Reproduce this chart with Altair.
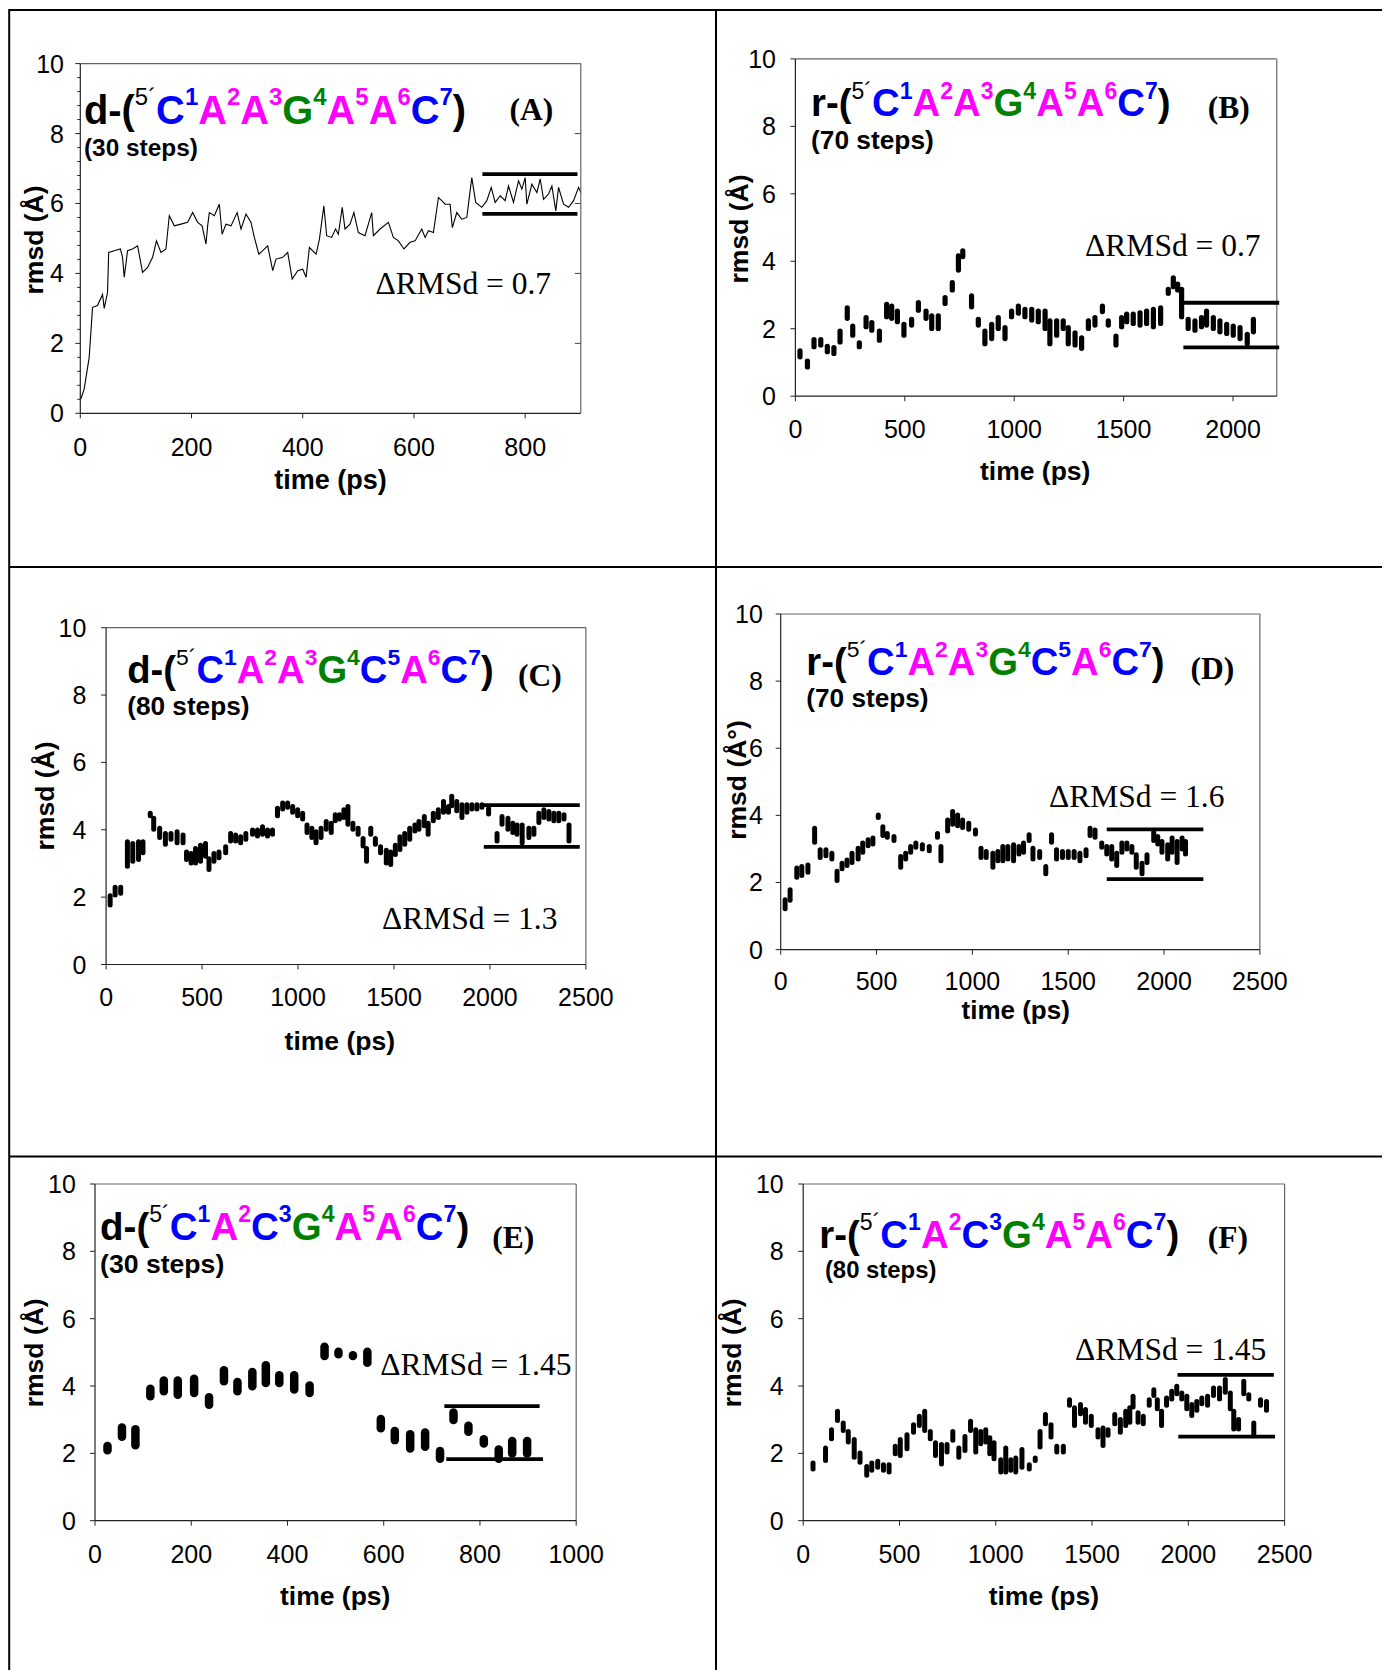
import altair as alt
import pandas as pd

W, H, M = 1374, 1662, 8
SANS, SERIF = "Liberation Sans", "Liberation Serif"
BLUE, MAGENTA, GREEN = "#0000FF", "#FF00FF", "#008000"
COLORS = {"C": BLUE, "A": MAGENTA, "G": GREEN}
AXIS_COLOR = "#222"

# ---------------- data ----------------
# (A) continuous trace
A_time = [1, 7, 16, 22, 31, 40, 43, 49, 51, 61,
          72, 76, 79, 85, 94, 103, 112, 121, 130, 137,
          145, 154, 160, 169, 181, 193, 202, 211, 219, 226,
          229, 232, 241, 250, 255, 262, 271, 282, 289, 298,
          307, 313, 321, 328, 337, 346, 352, 364, 373, 381,
          391, 400, 406, 412, 424, 430, 438, 443, 452, 459,
          464, 471, 476, 485, 492, 500, 512, 524, 527, 539,
          554, 563, 572, 582, 593, 602, 614, 620, 626, 635,
          644, 650, 656, 665, 669, 677, 686, 695, 698, 704,
          711, 722, 731, 739, 746, 755, 764, 770, 779, 788,
          794, 800, 803, 812, 821, 827, 833, 842, 848, 855,
          860, 869, 878, 887, 896, 900]
A_rmsd = [0.41, 0.7, 1.6, 3.03, 3.08, 3.4, 3.0, 3.46, 4.6, 4.65,
          4.7, 4.46, 3.89, 4.65, 4.7, 4.79, 4.03, 4.17, 4.46, 4.93,
          4.6, 4.7, 5.65, 5.36, 5.41, 5.46, 5.74, 5.46, 5.36, 4.84,
          5.36, 5.74, 5.65, 5.98, 5.12, 5.41, 5.36, 5.74, 5.27, 5.70,
          5.46, 5.03, 4.55, 4.65, 4.79, 4.08, 4.41, 4.46, 4.6, 3.84,
          4.08, 4.12, 3.89, 4.74, 4.55, 4.98, 5.93, 5.08, 5.03, 5.27,
          5.12, 5.89, 5.27, 5.41, 5.74, 5.17, 5.08, 5.74, 5.08, 5.27,
          5.46, 5.03, 4.93, 4.7, 4.89, 4.93, 5.27, 5.03, 5.22, 5.17,
          6.17, 6.08, 5.98, 5.98, 5.31, 5.74, 5.55, 5.6, 5.98, 6.74,
          6.03, 5.89, 6.08, 6.46, 6.03, 6.22, 6.08, 6.5, 6.03, 6.65,
          6.41, 6.74, 5.98, 6.55, 6.31, 6.7, 6.12, 6.27, 6.5, 5.79,
          6.46, 5.98, 5.89, 6.08, 6.46, 6.31]

# (B)-(F): clusters of points, each from a top to a bottom value
B_time = [21, 55, 85, 116, 146, 176, 204, 237, 262, 292,
          323, 349, 384, 417, 440, 466, 496, 531, 562, 597,
          623, 653, 684, 717, 745, 765, 805, 836, 866, 897,
          927, 958, 988, 1019, 1049, 1080, 1110, 1141, 1163, 1194,
          1224, 1247, 1278, 1308, 1339, 1369, 1403, 1430, 1465, 1491,
          1514, 1544, 1575, 1605, 1636, 1669, 1704, 1727, 1747, 1765,
          1795, 1826, 1856, 1879, 1910, 1940, 1971, 2001, 2032, 2065,
          2093]
B_hi = [1.38, 1.08, 1.72, 1.72, 1.52, 1.48, 1.97, 2.66, 2.12, 1.62,
        2.37, 2.22, 1.97, 2.76, 2.71, 2.56, 2.17, 2.32, 2.81, 2.56,
        2.42, 2.42, 2.96, 3.41, 4.2, 4.35, 3.01, 2.32, 1.97, 2.17,
        2.37, 2.07, 2.56, 2.71, 2.61, 2.61, 2.56, 2.56, 2.27, 2.27,
        2.27, 2.07, 1.92, 1.77, 2.27, 2.37, 2.71, 2.27, 1.82, 2.37,
        2.47, 2.47, 2.51, 2.56, 2.61, 2.66, 3.21, 3.55, 3.36, 3.21,
        2.32, 2.27, 2.37, 2.56, 2.37, 2.27, 2.17, 2.12, 2.07, 1.87,
        2.32]
B_lo = [1.13, 0.83, 1.43, 1.48, 1.28, 1.23, 1.57, 2.27, 1.77, 1.43,
        2.02, 1.92, 1.62, 2.32, 2.27, 2.17, 1.77, 2.07, 2.51, 2.27,
        1.97, 1.97, 2.71, 3.11, 3.7, 4.1, 2.61, 2.07, 1.52, 1.67,
        1.97, 1.67, 2.32, 2.42, 2.32, 2.22, 2.17, 1.97, 1.52, 1.77,
        1.97, 1.52, 1.48, 1.38, 1.97, 2.07, 2.47, 2.07, 1.48, 2.02,
        2.17, 2.12, 2.07, 2.12, 2.02, 2.12, 3.01, 3.21, 3.11, 2.32,
        1.97, 1.92, 2.02, 2.07, 1.97, 1.87, 1.82, 1.77, 1.67, 1.52,
        1.87]

C_time = [21, 47, 76, 111, 139, 169, 192, 230, 248, 279,
          309, 338, 370, 401, 419, 443, 466, 492, 518, 536,
          562, 588, 623, 649, 675, 701, 728, 763, 789, 815,
          841, 867, 893, 920, 946, 972, 998, 1024, 1047, 1072,
          1094, 1120, 1147, 1173, 1194, 1216, 1239, 1260, 1286, 1313,
          1339, 1357, 1379, 1403, 1430, 1460, 1483, 1507, 1531, 1556,
          1582, 1609, 1630, 1658, 1678, 1705, 1731, 1758, 1784, 1801,
          1827, 1854, 1880, 1906, 1932, 1958, 1993, 2037, 2063, 2094,
          2119, 2141, 2168, 2203, 2229, 2255, 2281, 2307, 2333, 2359,
          2386, 2412]
C_hi = [2.08, 2.33, 2.33, 3.68, 3.63, 3.68, 3.68, 4.53, 4.38, 4.08,
        3.93, 3.93, 3.98, 3.88, 3.38, 3.33, 3.48, 3.58, 3.63, 3.18,
        3.33, 3.38, 3.53, 3.93, 3.88, 3.83, 3.93, 4.03, 4.03, 4.13,
        4.03, 4.03, 4.68, 4.83, 4.83, 4.73, 4.63, 4.53, 4.18, 4.08,
        3.98, 4.08, 4.28, 4.23, 4.48, 4.48, 4.63, 4.73, 4.23, 4.08,
        3.78, 3.48, 4.08, 3.78, 3.53, 3.43, 3.38, 3.58, 3.83, 3.93,
        4.08, 4.18, 4.28, 4.43, 4.23, 4.53, 4.63, 4.88, 4.73, 5.03,
        4.88, 4.78, 4.78, 4.78, 4.78, 4.78, 4.68, 3.93, 4.43, 4.38,
        4.23, 4.18, 4.18, 4.08, 4.08, 4.53, 4.63, 4.58, 4.53, 4.53,
        4.48, 4.18]
C_lo = [1.73, 2.03, 2.08, 2.88, 3.03, 3.08, 3.28, 4.38, 3.98, 3.73,
        3.53, 3.68, 3.58, 3.58, 3.08, 2.98, 2.98, 3.03, 3.18, 2.78,
        3.03, 3.13, 3.28, 3.63, 3.63, 3.58, 3.68, 3.83, 3.78, 3.83,
        3.78, 3.83, 4.38, 4.58, 4.63, 4.48, 4.38, 4.28, 3.88, 3.73,
        3.58, 3.73, 3.98, 3.88, 4.23, 4.28, 4.33, 4.13, 3.98, 3.83,
        3.48, 3.03, 3.83, 3.53, 3.28, 2.98, 2.93, 3.23, 3.38, 3.53,
        3.68, 3.93, 3.98, 4.08, 3.83, 4.23, 4.33, 4.48, 4.48, 4.68,
        4.53, 4.33, 4.48, 4.58, 4.58, 4.63, 4.43, 3.63, 4.13, 3.98,
        3.88, 3.83, 3.58, 3.73, 3.83, 4.18, 4.33, 4.28, 4.23, 4.23,
        4.28, 3.63]

D_time = [23, 49, 84, 110, 142, 177, 206, 236, 267, 294,
          320, 346, 372, 404, 428, 456, 481, 509, 533, 556,
          591, 626, 652, 678, 705, 739, 775, 818, 836, 871,
          897, 923, 949, 981, 1016, 1045, 1072, 1107, 1133, 1159,
          1185, 1215, 1243, 1267, 1296, 1316, 1351, 1383, 1413, 1439,
          1470, 1500, 1531, 1561, 1593, 1614, 1640, 1675, 1701, 1727,
          1753, 1780, 1806, 1832, 1855, 1885, 1911, 1946, 1967, 1989,
          2019, 2042, 2068, 2094, 2112]
D_hi = [1.52, 1.82, 2.47, 2.51, 2.56, 3.65, 3.01, 3.01, 2.91, 2.37,
        2.61, 2.71, 2.91, 3.06, 3.21, 3.31, 3.36, 4.05, 3.7, 3.5,
        3.41, 2.81, 2.91, 3.11, 3.21, 3.16, 3.11, 3.5, 3.11, 3.9,
        4.15, 4.05, 3.9, 3.8, 3.6, 3.06, 2.96, 2.91, 2.96, 3.11,
        3.11, 3.16, 3.11, 3.21, 3.46, 3.06, 2.96, 2.51, 3.46, 3.01,
        2.96, 2.96, 2.96, 2.91, 3.01, 3.65, 3.6, 3.21, 3.11, 3.11,
        2.91, 3.21, 3.21, 3.11, 2.86, 2.61, 2.86, 3.55, 3.41, 3.26,
        3.16, 3.36, 3.26, 3.36, 3.26]
D_lo = [1.18, 1.43, 2.12, 2.17, 2.27, 3.16, 2.71, 2.76, 2.66, 2.02,
        2.37, 2.47, 2.56, 2.66, 2.86, 3.06, 3.11, 3.9, 3.36, 3.31,
        3.21, 2.42, 2.66, 2.86, 3.01, 2.96, 2.91, 3.31, 2.61, 3.5,
        3.7, 3.65, 3.6, 3.55, 3.41, 2.71, 2.71, 2.42, 2.61, 2.61,
        2.66, 2.61, 2.81, 2.86, 3.21, 2.66, 2.71, 2.22, 3.16, 2.66,
        2.71, 2.71, 2.71, 2.61, 2.76, 3.36, 3.31, 3.01, 2.81, 2.66,
        2.47, 2.86, 2.96, 2.86, 2.42, 2.22, 2.56, 3.21, 3.11, 2.86,
        2.66, 2.86, 2.56, 2.96, 2.81]

E_time = [26, 56, 84, 115, 143, 172, 206, 237, 268, 296,
          327, 355, 383, 414, 446, 477, 506, 536, 566, 594,
          623, 655, 686, 717, 745, 776, 808, 839, 867, 898]
E_hi = [2.28, 2.83, 2.78, 3.98, 4.23, 4.23, 4.28, 3.73, 4.53, 4.18,
        4.48, 4.68, 4.38, 4.38, 4.08, 5.23, 5.08, 4.98, 5.08, 3.08,
        2.73, 2.63, 2.68, 2.13, 3.28, 2.88, 2.48, 2.18, 2.43, 2.43]
E_lo = [2.03, 2.43, 2.18, 3.63, 3.78, 3.68, 3.73, 3.38, 4.08, 3.78,
        3.93, 4.03, 4.03, 3.83, 3.73, 4.83, 4.88, 4.83, 4.63, 2.68,
        2.33, 2.08, 2.13, 1.78, 2.93, 2.58, 2.23, 1.78, 1.93, 1.93]

F_time = [51, 116, 147, 178, 208, 234, 265, 295, 330, 356,
          387, 417, 446, 478, 504, 539, 573, 603, 631, 660,
          687, 718, 747, 777, 808, 840, 869, 896, 922, 948,
          969, 991, 1026, 1052, 1078, 1104, 1136, 1174, 1205, 1230,
          1258, 1287, 1317, 1351, 1383, 1409, 1440, 1466, 1496, 1531,
          1557, 1583, 1618, 1647, 1675, 1696, 1713, 1739, 1766, 1797,
          1821, 1839, 1861, 1887, 1914, 1940, 1966, 1992, 2018, 2044,
          2070, 2100, 2131, 2162, 2192, 2218, 2236, 2261, 2288, 2314,
          2340, 2375, 2406]
F_hi = [1.75, 2.2, 2.74, 3.29, 2.94, 2.69, 2.45, 2.05, 1.65, 1.75,
        1.8, 1.7, 1.7, 2.25, 2.45, 2.59, 2.89, 3.14, 3.29, 2.69,
        2.35, 2.3, 2.3, 2.69, 2.2, 2.54, 2.99, 2.74, 2.69, 2.74,
        2.5, 2.35, 1.85, 2.2, 1.85, 1.9, 2.15, 1.7, 1.9, 2.69,
        3.19, 2.89, 2.25, 2.25, 3.63, 3.39, 3.49, 3.34, 3.14, 2.74,
        2.79, 2.74, 3.19, 3.04, 3.29, 3.39, 3.73, 3.24, 3.14, 3.63,
        3.93, 3.63, 3.29, 3.68, 3.88, 4.03, 3.83, 3.73, 3.49, 3.58,
        3.68, 3.73, 3.98, 3.98, 4.23, 3.83, 3.29, 3.04, 4.18, 3.78,
        2.94, 3.63, 3.58]
F_lo = [1.5, 1.75, 2.4, 2.94, 2.64, 2.3, 1.85, 1.7, 1.31, 1.46,
        1.55, 1.46, 1.41, 1.95, 1.9, 2.1, 2.59, 2.79, 2.64, 2.4,
        1.9, 1.65, 2.0, 2.35, 1.85, 2.05, 2.64, 2.0, 2.25, 2.3,
        1.95, 1.8, 1.41, 1.41, 1.46, 1.41, 1.55, 1.5, 1.75, 2.15,
        2.84, 2.45, 2.0, 2.0, 3.39, 2.79, 3.14, 2.89, 2.79, 2.45,
        2.2, 2.5, 2.84, 2.59, 2.79, 2.89, 3.34, 2.89, 2.84, 3.39,
        3.68, 3.29, 2.79, 3.39, 3.58, 3.73, 3.58, 3.29, 3.09, 3.24,
        3.44, 3.39, 3.68, 3.58, 3.78, 3.29, 2.69, 2.69, 3.73, 3.58,
        2.54, 3.39, 3.24]

# horizontal ΔRMSd bands: (t start, t end, rmsd)
A_band = [(723, 894, 6.84), (723, 894, 5.70)]
B_band = [(1773, 2211, 2.77), (1773, 2211, 1.45)]
C_band = [(1968, 2468, 4.73), (1968, 2468, 3.49)]
D_band = [(1701, 2205, 3.58), (1701, 2205, 2.10)]
E_band = [(726, 924, 3.40), (730, 931, 1.83)]
F_band = [(1944, 2444, 4.33), (1948, 2450, 2.50)]

Y_TICKS = [0, 2, 4, 6, 8, 10]
A_minor = [v / 10 for v in range(4, 100, 4) if v % 20 != 0]

# ---------------- panel layout (pixel geometry of the page) ----------------
PANELS = [
    dict(key="A", L=80.3, R=580.8, T=63.6, B=413.3, xmax=900, xticks=[0, 200, 400, 600, 800],
         prefix="d", seq="CAAGAAC", steps="(30 steps)", lab="(A)", drms="ΔRMSd = 0.7", ylabel="rmsd (Å)",
         title=(84, 123.6, 382), lab_pos=(509.6, 120), steps_pos=(84, 156, 24.4), drms_pos=(375.6, 294.4),
         ytitle=(-37.8, 240), xtitle=(330.5, 75.7, 27), ypad=11.3, xrel=42.7,
         series=("line", A_time, A_rmsd, None), band=A_band),
    dict(key="B", L=795.4, R=1276.8, T=58.9, B=396.2, xmax=2200, xticks=[0, 500, 1000, 1500, 2000],
         prefix="r", seq="CAAGAAC", steps="(70 steps)", lab="(B)", drms="ΔRMSd = 0.7", ylabel="rmsd (Å)",
         title=(811, 116.3, 359.5), lab_pos=(1207.8, 118.1), steps_pos=(811, 149, 26.3), drms_pos=(1085.1, 256.3),
         ytitle=(-47.9, 229), xtitle=(1035.2, 83.6, 26.5), ypad=14.4, xrel=41.8,
         series=("rule", B_time, B_hi, B_lo), band=B_band, sw=5.2),
    dict(key="C", L=106.1, R=585.9, T=627.7, B=964.5, xmax=2500, xticks=[0, 500, 1000, 1500, 2000, 2500],
         prefix="d", seq="CAAGCAC", steps="(80 steps)", lab="(C)", drms="ΔRMSd = 1.3", ylabel="rmsd (Å)",
         title=(127.2, 682.5, 366.4), lab_pos=(518, 686.3), steps_pos=(127.2, 715, 26.2), drms_pos=(382, 929.3),
         ytitle=(-51.9, 796), xtitle=(339.8, 85.4, 26.5), ypad=14.8, xrel=41.3,
         series=("rule", C_time, C_hi, C_lo), band=C_band, sw=5.0),
    dict(key="D", L=780.7, R=1259.9, T=614.0, B=949.6, xmax=2500, xticks=[0, 500, 1000, 1500, 2000, 2500],
         prefix="r", seq="CAAGCAC", steps="(70 steps)", lab="(D)", drms="ΔRMSd = 1.6", ylabel="rmsd (Å°)",
         title=(806.3, 674.8, 358.2), lab_pos=(1190.5, 678.6), steps_pos=(806.3, 707.3, 26.2), drms_pos=(1049, 806.8),
         ytitle=(-35.0, 780), xtitle=(1015.7, 69.5, 26.0), ypad=12.8, xrel=40.0,
         series=("rule", D_time, D_hi, D_lo), band=D_band, sw=5.0),
    dict(key="E", L=95.0, R=576.2, T=1184.0, B=1520.7, xmax=1000, xticks=[0, 200, 400, 600, 800, 1000],
         prefix="d", seq="CACGAAC", steps="(30 steps)", lab="(E)", drms="ΔRMSd = 1.45", ylabel="rmsd (Å)",
         title=(100.1, 1240.2, 369.1), lab_pos=(492.2, 1247.6), steps_pos=(100.1, 1272.9, 26.6), drms_pos=(380.2, 1374.9),
         ytitle=(-52.3, 1352.8), xtitle=(335.2, 83.8, 26.5), ypad=14.2, xrel=41.8,
         series=("rule", E_time, E_hi, E_lo), band=E_band, sw=8.5),
    dict(key="F", L=803.2, R=1284.6, T=1184.0, B=1520.7, xmax=2500, xticks=[0, 500, 1000, 1500, 2000, 2500],
         prefix="r", seq="CACGAAC", steps="(80 steps)", lab="(F)", drms="ΔRMSd = 1.45", ylabel="rmsd (Å)",
         title=(819.3, 1247.6, 359.9), lab_pos=(1207.8, 1247.6), steps_pos=(824.9, 1277.9, 23.9), drms_pos=(1075.1, 1360.4),
         ytitle=(-61.8, 1352.8), xtitle=(1043.9, 83.8, 26.5), ypad=14.5, xrel=41.8,
         series=("rule", F_time, F_hi, F_lo), band=F_band, sw=5.0),
]

BOLD_W = {"d": .611, "r": .389, "-": .333, "(": .333, ")": .333, "C": .722, "A": .722, "G": .778}
DIGIT_W = .556
PRIME_W = .889  # "5´"
TICK = 5.0


def build_panel(p):
    L, R, T, B, xmax = p["L"], p["R"], p["T"], p["B"], p["xmax"]
    pxu = (B - T) / 10.0
    pxx = (R - L) / xmax

    def tx(px):
        return (px - L) / (R - L) * xmax

    def ry(py):
        return (B - py) / (B - T) * 10.0

    xs = alt.Scale(domain=[0, xmax], range=[L - M, R - M], nice=False, zero=False)
    ys = alt.Scale(domain=[0, 10], range=[B - M, T - M], nice=False, zero=False)

    def X(f):
        return alt.X(f, scale=xs, axis=None)

    def Y(f):
        return alt.Y(f, scale=ys, axis=None)

    layers = []

    # ---- data ----
    kind, t, a, b = p["series"]
    if kind == "line":
        df = pd.DataFrame({"t": t, "r": a})
        layers.append(alt.Chart(df).mark_line(color="black", strokeWidth=1.1).encode(
            x=X("t:Q"), y=Y("r:Q")))
    else:
        sw = p["sw"]
        cap = 0.5 * (sw / 2.0) / pxu
        df = pd.DataFrame({"t": t, "hi": a, "lo": b})
        mid = (df["hi"] + df["lo"]) / 2
        hi = df["hi"] - cap
        lo = df["lo"] + cap
        df["hi2"] = hi.where(hi > lo, mid + 0.01)
        df["lo2"] = lo.where(hi > lo, mid - 0.01)
        layers.append(alt.Chart(df).mark_rule(color="black", strokeWidth=sw, strokeCap="round").encode(
            x=X("t:Q"), y=Y("hi2:Q"), y2="lo2:Q"))

    # ---- plot frame (top and right, grey) ----
    frame = pd.DataFrame({"x": [0, xmax], "x2": [xmax, xmax], "y": [10, 0], "y2": [10, 10]})
    layers.append(alt.Chart(frame).mark_rule(color="#666", strokeWidth=1.2).encode(
        x=X("x:Q"), x2="x2:Q", y=Y("y:Q"), y2="y2:Q"))

    # ---- axes drawn through the panel scales ----
    dom = pd.DataFrame({"x": [0, 0], "x2": [0, xmax], "y": [0, 0], "y2": [10, 0]})
    layers.append(alt.Chart(dom).mark_rule(color=AXIS_COLOR, strokeWidth=1.2).encode(
        x=X("x:Q"), x2="x2:Q", y=Y("y:Q"), y2="y2:Q"))

    yt = pd.DataFrame({"v": Y_TICKS, "label": [str(v) for v in Y_TICKS]})
    yt["x"] = -TICK / pxx
    yt["x2"] = 0.0
    layers.append(alt.Chart(yt).mark_rule(color=AXIS_COLOR, strokeWidth=1).encode(
        x=X("x:Q"), x2="x2:Q", y=Y("v:Q")))
    layers.append(alt.Chart(yt).mark_text(
        align="right", baseline="middle", font=SANS, fontSize=25, color="black",
        dx=-(TICK + p["ypad"]), dy=1).encode(x=X("x2:Q"), y=Y("v:Q"), text="label:N"))

    xt = pd.DataFrame({"v": p["xticks"], "label": [str(v) for v in p["xticks"]]})
    xt["y"] = 0.0
    xt["y2"] = -TICK / pxu
    layers.append(alt.Chart(xt).mark_rule(color=AXIS_COLOR, strokeWidth=1).encode(
        x=X("v:Q"), y=Y("y:Q"), y2="y2:Q"))
    layers.append(alt.Chart(xt).mark_text(
        align="center", baseline="alphabetic", font=SANS, fontSize=25, color="black",
        dy=p["xrel"]).encode(x=X("v:Q"), y=Y("y:Q"), text="label:N"))

    if p["key"] == "A":
        minor = pd.DataFrame({"y": A_minor})
        minor["x"] = -3.0 / pxx
        minor["x2"] = 0.0
        layers.append(alt.Chart(minor).mark_rule(color=AXIS_COLOR, strokeWidth=1).encode(
            x=X("x:Q"), x2="x2:Q", y=Y("y:Q")))
        right = pd.DataFrame({"y": [2, 4, 6, 8]})
        right["x"] = xmax - 6.0 / pxx
        right["x2"] = float(xmax)
        layers.append(alt.Chart(right).mark_rule(color="#444", strokeWidth=1).encode(
            x=X("x:Q"), x2="x2:Q", y=Y("y:Q")))

    # ---- ΔRMSd band lines ----
    band = pd.DataFrame(p["band"], columns=["t0", "t1", "r"])
    layers.append(alt.Chart(band).mark_rule(color="black", strokeWidth=3.8).encode(
        x=X("t0:Q"), x2="t1:Q", y=Y("r:Q")))

    # ---- coloured sequence title ----
    x0, base, width = p["title"]
    prefix, seq = p["prefix"], p["seq"]
    em = (BOLD_W[prefix] + .666 + 0.6 * PRIME_W + sum(BOLD_W[c] for c in seq)
          + 0.6 * DIGIT_W * len(seq) + .333)
    Fs = width / em
    fs = 0.6 * Fs
    rise = 0.46 * Fs
    bold_rows, reg_rows = [], []
    cur = 0.0
    bold_rows.append((prefix + "-(", cur, 0.0, "black", Fs))
    cur += (BOLD_W[prefix] + .666) * Fs
    reg_rows.append(("5´", cur, rise, "black", fs))
    cur += PRIME_W * fs
    for i, c in enumerate(seq):
        col = COLORS[c]
        bold_rows.append((c, cur, 0.0, col, Fs))
        cur += BOLD_W[c] * Fs
        bold_rows.append((str(i + 1), cur, rise, col, fs))
        cur += DIGIT_W * fs
    bold_rows.append((")", cur, 0.0, "black", Fs))

    def seg_df(rows):
        return pd.DataFrame({
            "label": [r[0] for r in rows],
            "x": [tx(x0 + r[1]) for r in rows],
            "y": [ry(base - r[2]) for r in rows],
            "color": [r[3] for r in rows],
            "size": [r[4] for r in rows],
        })

    for rows, weight in ((bold_rows, "bold"), (reg_rows, "normal")):
        layers.append(alt.Chart(seg_df(rows)).mark_text(
            align="left", baseline="alphabetic", font=SANS, fontWeight=weight).encode(
            x=X("x:Q"), y=Y("y:Q"), text="label:N",
            color=alt.Color("color:N", scale=None), size=alt.Size("size:Q", scale=None)))

    def note(text, px, py, font, weight, size, align="left", angle=0):
        d = pd.DataFrame({"label": [text], "x": [tx(px)], "y": [ry(py)]})
        return alt.Chart(d).mark_text(align=align, baseline="alphabetic", font=font, angle=angle,
                                      fontWeight=weight, fontSize=size, color="black").encode(
            x=X("x:Q"), y=Y("y:Q"), text="label:N")

    layers.append(note(p["lab"], p["lab_pos"][0], p["lab_pos"][1], SERIF, "bold", 31.5))
    layers.append(note(p["steps"], p["steps_pos"][0], p["steps_pos"][1], SANS, "bold", p["steps_pos"][2]))
    layers.append(note(p["drms"], p["drms_pos"][0], p["drms_pos"][1], SERIF, "normal", 31.5))
    # axis titles
    layers.append(note("time (ps)", p["xtitle"][0], B + p["xtitle"][1], SANS, "bold",
                       p["xtitle"][2], align="center"))
    layers.append(note(p["ylabel"], L + p["ytitle"][0], p["ytitle"][1], SANS, "bold",
                       26.5, align="center", angle=270))

    return alt.layer(*layers)


# ---------------- cell borders ----------------
dummy = pd.DataFrame({"k": [0]})
BORDER_H = [2.0, 559.0, 1148.5]      # horizontal lines (chart px)
BORDER_V = [1.2, 708.0]              # vertical lines (chart px)
borders = []
for yv in BORDER_H:
    borders.append(alt.Chart(dummy).mark_rule(color="black", strokeWidth=2).encode(
        x=alt.value(1), x2=alt.value(W), y=alt.value(yv)))
for xv in BORDER_V:
    borders.append(alt.Chart(dummy).mark_rule(color="black", strokeWidth=2).encode(
        x=alt.value(xv), y=alt.value(1), y2=alt.value(H)))

panels = [build_panel(p) for p in PANELS]

chart = alt.layer(*borders, *panels).resolve_scale(
    x="independent", y="independent"
).properties(
    width=W, height=H, padding=0, autosize=alt.AutoSizeParams(type="none")
).configure_view(stroke="transparent")

chart.save("out.html", embed_options={"renderer": "svg", "actions": False})
